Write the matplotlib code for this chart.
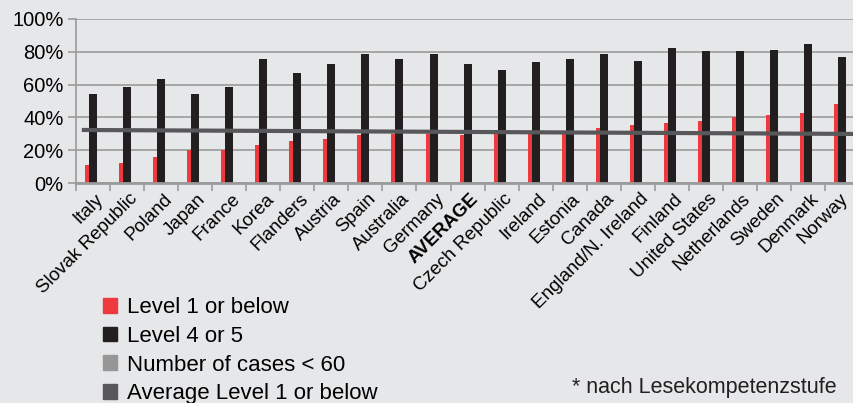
import matplotlib.pyplot as plt
import matplotlib.transforms as mtransforms
from matplotlib.patches import Patch
import numpy as np

plt.rcParams['font.family'] = ['Liberation Sans', 'DejaVu Sans']

countries = ['Italy', 'Slovak Republic', 'Poland', 'Japan', 'France', 'Korea',
             'Flanders', 'Austria', 'Spain', 'Australia', 'Germany', 'AVERAGE',
             'Czech Republic', 'Ireland', 'Estonia', 'Canada',
             'England/N. Ireland', 'Finland', 'United States', 'Netherlands',
             'Sweden', 'Denmark', 'Norway']
level1 = [11.1, 12.3, 16.0, 20.2, 20.2, 23.3, 25.7, 26.9, 29.3, 30.1, 30.1, 29.3,
          30.0, 30.0, 30.0, 33.6, 35.4, 36.6, 37.8, 40.3, 41.5, 42.7, 48.2]
level45 = [54.3, 58.5, 63.4, 54.3, 58.5, 75.5, 67.0, 72.5, 78.6, 75.5, 78.6, 72.5,
           68.8, 73.7, 75.5, 78.6, 74.3, 82.2, 80.4, 80.4, 81.0, 84.6, 76.7]
avg_level1 = [32.4, 30.0]  # start / end of the average line

bg = '#e6e7e9'
red = '#ee3a3e'
black = '#231f20'
grid_c = '#9b9b9b'
avg_c = '#58585a'

fig = plt.figure(figsize=(8.54, 4.03), dpi=100, facecolor=bg)
ax = fig.add_axes([76 / 854, 1 - 183.3 / 403, 1 - 76 / 854, (183.3 - 18.7) / 403])
ax.set_facecolor(bg)

x = np.arange(len(countries))
w = 0.235
ax.bar(x - w, level1, width=w, align='edge', color=red, zorder=2)
ax.bar(x, level45, width=w, color=black, zorder=2)

xmax = -0.5 + (854 - 76) / 34.05
ax.plot([-0.33, xmax], avg_level1, color=avg_c, lw=3, zorder=3, solid_capstyle='butt')

ax.set_xlim(-0.5, xmax)
ax.set_ylim(0, 100)
ax.set_yticks(range(0, 101, 20))
ax.set_yticklabels([f'{v}%' for v in range(0, 101, 20)], fontsize=14.5)
ax.yaxis.grid(True, color=grid_c, lw=1.2, zorder=0)
ax.set_axisbelow(True)

ax.set_xticks(x - 0.5, minor=False)
ax.set_xticklabels([])
ax.set_xticks(x, minor=True)
ax.set_xticklabels(countries, minor=True, rotation=45, ha='right', va='top',
                   rotation_mode='anchor', fontsize=13.5)
ax.tick_params(axis='x', which='minor', length=0, pad=5)
ax.tick_params(axis='x', which='major', length=6, width=1.2, color=grid_c)
ax.tick_params(axis='y', length=6, width=1.2, color=grid_c, pad=3)
labs = ax.get_xticklabels(minor=True)
for i, lab in enumerate(labs):
    dx = 2 if i < len(labs) - 1 else -3  # keep Norway inside the picture
    lab.set_transform(lab.get_transform() +
                      mtransforms.ScaledTranslation(dx / 100, 0, fig.dpi_scale_trans))
    if lab.get_text() == 'AVERAGE':
        lab.set_fontweight('bold')

for s in ['top', 'right']:
    ax.spines[s].set_visible(False)
ax.spines['left'].set_color(grid_c)
ax.spines['left'].set_linewidth(1.2)
ax.spines['bottom'].set_color(grid_c)
ax.spines['bottom'].set_linewidth(2)
ax.spines['bottom'].set_zorder(4)

handles = [Patch(color=red), Patch(color=black), Patch(color='#969696'), Patch(color=avg_c)]
labels = ['Level 1 or below', 'Level 4 or 5', 'Number of cases < 60', 'Average Level 1 or below']
fig.legend(handles, labels, loc='upper left', bbox_to_anchor=(103 / 854, 1 - 297 / 403),
           frameon=False, fontsize=16, handlelength=0.65, handleheight=0.65,
           handletextpad=0.45, labelspacing=0.35, borderaxespad=0, borderpad=0)

fig.text(572 / 854, 1 - 388 / 403, '* nach Lesekompetenzstufe', fontsize=15.5,
         va='center', ha='left', color='#231f20')

fig.savefig('out.png', dpi=100, facecolor=bg)
